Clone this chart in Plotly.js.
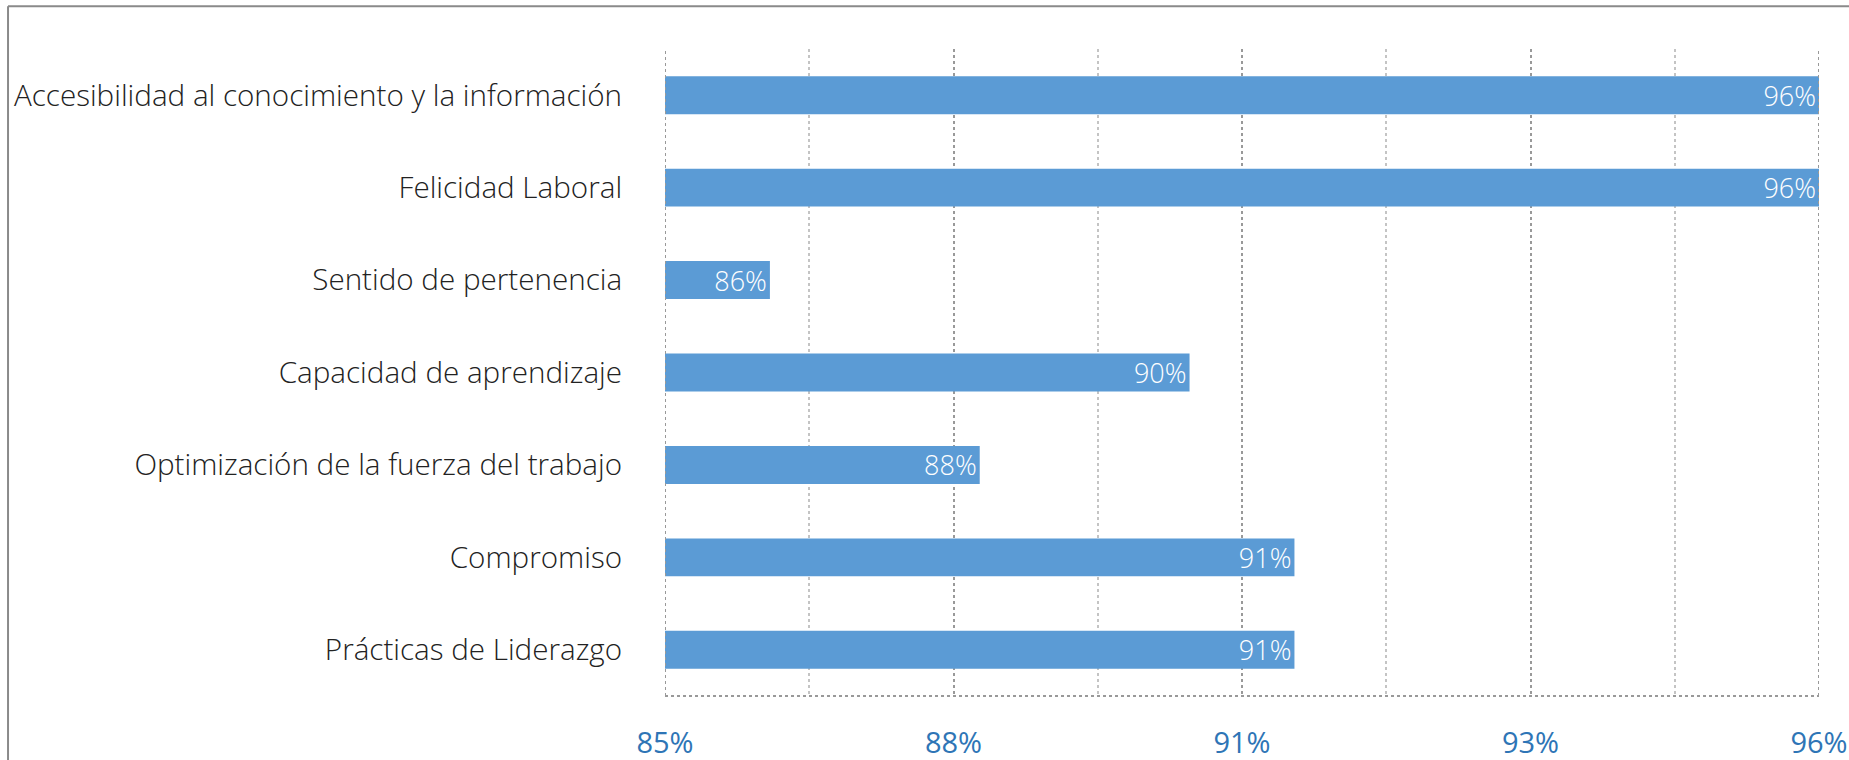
<!DOCTYPE html>
<html>
<head>
<meta charset="utf-8">
<script src="https://cdn.plot.ly/plotly-3.0.1.min.js"></script>
<style>
html,body{margin:0;padding:0;background:#fff;}
#chart{width:1849px;height:760px;}
</style>
</head>
<body>
<div id="chart"></div>
<script>
// Categories, top to bottom
const categories = [
  "Accesibilidad al conocimiento y la información",
  "Felicidad Laboral",
  "Sentido de pertenencia",
  "Capacidad de aprendizaje",
  "Optimización de la fuerza del trabajo",
  "Compromiso",
  "Prácticas de Liderazgo"
];
const values = [0.96, 0.96, 0.86, 0.90, 0.88, 0.91, 0.91];
const barLabels = ["96%", "96%", "86%", "90%", "88%", "91%", "91%"];
const tickVals = [0.85, 0.8775, 0.905, 0.9325, 0.96];
const tickText = ["85%", "88%", "91%", "93%", "96%"];
const minorTickVals = [0.86375, 0.89125, 0.91875, 0.94625];

const FONT = "'Open Sans', Lato, sans-serif";

const trace = {
  type: "bar",
  orientation: "h",
  x: values,
  y: categories,
  text: barLabels,
  textposition: "inside",
  insidetextanchor: "end",
  constraintext: "none",
  textfont: {family: FONT, size: 27, color: "#ffffff", weight: 300},
  marker: {color: "#5b9bd5"},
  hoverinfo: "x+y",
  cliponaxis: false
};

const edgeLines = [tickVals[0], tickVals[tickVals.length - 1]].map(v => ({
  type: "line", xref: "x", yref: "paper", x0: v, x1: v, y0: 0, y1: 1,
  line: {color: "#999999", width: 2, dash: "dot"}, layer: "above"
}));

const layout = {
  width: 1849,
  height: 760,
  margin: {l: 665, r: 30, t: 49, b: 64},
  paper_bgcolor: "#ffffff",
  plot_bgcolor: "#ffffff",
  bargap: 0.59,
  showlegend: false,
  xaxis: {
    range: [0.85, 0.96],
    tickvals: tickVals,
    ticktext: tickText,
    tickfont: {family: FONT, size: 29, color: "#2e75b6"},
    ticks: "outside",
    ticklen: 21,
    tickcolor: "rgba(0,0,0,0)",
    showgrid: true,
    gridcolor: "#999999",
    gridwidth: 2,
    griddash: "dot",
    minor: {tickvals: minorTickVals, showgrid: true, gridcolor: "#c4c4c4", gridwidth: 2, griddash: "dot", ticks: ""},
    zeroline: false,
    showline: false,
    fixedrange: true
  },
  yaxis: {
    autorange: "reversed",
    tickfont: {family: FONT, size: 29.6, color: "#222222", weight: 300},
    ticks: "outside",
    ticklen: 36,
    tickcolor: "rgba(0,0,0,0)",
    showgrid: false,
    zeroline: false,
    showline: false,
    fixedrange: true
  },
  shapes: edgeLines.concat([
    {type: "line", xref: "paper", yref: "paper", x0: 0, x1: 1, y0: 0, y1: 0,
     line: {color: "#999999", width: 2, dash: "dot"}},
    {type: "line", xref: "paper", yref: "paper", x0: -0.5693, x1: 1.03, y0: 1.066, y1: 1.066,
     line: {color: "#8a8a8a", width: 2}},
    {type: "line", xref: "paper", yref: "paper", x0: -0.5693, x1: -0.5693, y0: 1.066, y1: -0.2,
     line: {color: "#8a8a8a", width: 2}}
  ])
};

Plotly.newPlot("chart", [trace], layout, {displayModeBar: false, staticPlot: true});
</script>
</body>
</html>
